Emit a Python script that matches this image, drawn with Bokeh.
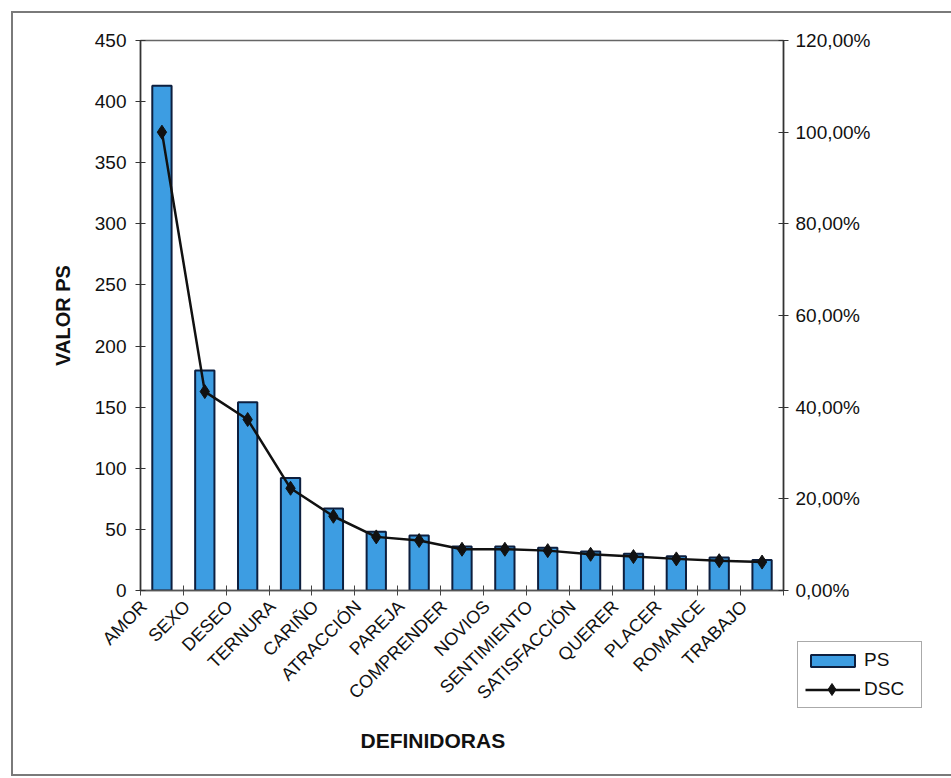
import math
from bokeh.plotting import figure
from bokeh.layouts import column
from bokeh.models import (Range1d, LinearAxis, FixedTicker, CustomJSTickFormatter,
                          Legend, LegendItem, Title)
from bokeh.embed import file_html
from bokeh.resources import INLINE

categories = ["AMOR", "SEXO", "DESEO", "TERNURA", "CARIÑO", "ATRACCIÓN", "PAREJA",
              "COMPRENDER", "NOVIOS", "SENTIMIENTO", "SATISFACCIÓN", "QUERER",
              "PLACER", "ROMANCE", "TRABAJO"]
ps_values = [413, 180, 154, 92, 67, 48, 45, 36, 36, 35, 32, 30, 28, 27, 25]
dsc_values = [1.000, 0.434, 0.373, 0.223, 0.162, 0.117, 0.109, 0.090, 0.090,
              0.087, 0.079, 0.074, 0.069, 0.065, 0.062]
left_ticks = [0, 50, 100, 150, 200, 250, 300, 350, 400, 450]
right_ticks = [0, 0.2, 0.4, 0.6, 0.8, 1.0, 1.2]

FONT = "Liberation Sans"
n = len(categories)
xpos = [i + 0.5 for i in range(n)]
label_pos = [i + 0.08 for i in range(n)]  # rotated labels end left of the bar centre

BAR = dict(fill_color="#3d9de2", line_color="#0d1f3f", line_width=2)
LINE = dict(line_color="#111111", line_width=2.5)
MARK = dict(marker="diamond", size=14, fill_color="#111111", line_color="#111111")

frame_css = {
    "background-image": "linear-gradient(#7a7a7a,#7a7a7a), linear-gradient(#7a7a7a,#7a7a7a), linear-gradient(#7a7a7a,#7a7a7a)",
    "background-size": "960px 2px, 2px 765px, 960px 2px",
    "background-position": "11px 11px, 11px 11px, 11px 774px",
    "background-repeat": "no-repeat",
}

p = figure(width=951, height=778, output_backend="svg", toolbar_location=None,
           x_range=Range1d(0, n), y_range=Range1d(0, 450),
           min_border_left=140, min_border_right=168, min_border_top=40,
           min_border_bottom=188, x_axis_type=None, y_axis_type=None,
           styles=frame_css)
p.xgrid.visible = False
p.ygrid.visible = False
p.background_fill_color = "white"
p.border_fill_color = None
p.outline_line_color = "#666666"
p.outline_line_width = 1.5
p.extra_y_ranges = {"pct": Range1d(0, 1.2)}

p.vbar(x=xpos, top=ps_values, width=0.45, bottom=0, **BAR)
p.line(x=xpos, y=dsc_values, y_range_name="pct", **LINE)
p.scatter(x=xpos, y=dsc_values, y_range_name="pct", **MARK)

# left axis
yax = LinearAxis(ticker=FixedTicker(ticks=left_ticks, minor_ticks=[]))
yax.axis_label = "VALOR PS"
yax.axis_label_text_font = FONT
yax.axis_label_text_font_style = "bold"
yax.axis_label_text_font_size = "20px"
yax.axis_label_text_color = "#111111"
yax.axis_label_standoff = 18
yax.major_label_text_font = FONT
yax.major_label_text_font_size = "19px"
yax.major_label_text_color = "#111111"
yax.major_label_standoff = 9
yax.major_tick_in = 5
yax.major_tick_out = 5
yax.minor_tick_line_color = None
yax.axis_line_color = "#333333"
yax.axis_line_width = 1.5
yax.major_tick_line_color = "#333333"
p.add_layout(yax, "left")

# right axis
rax = LinearAxis(y_range_name="pct", ticker=FixedTicker(ticks=right_ticks, minor_ticks=[]),
                 formatter=CustomJSTickFormatter(code="return (tick*100).toFixed(2).replace('.', ',') + '%';"))
rax.major_label_text_font = FONT
rax.major_label_text_font_size = "19px"
rax.major_label_text_color = "#111111"
rax.major_label_standoff = 7
rax.major_tick_in = 5
rax.major_tick_out = 5
rax.minor_tick_line_color = None
rax.axis_line_color = "#333333"
rax.axis_line_width = 1.5
rax.major_tick_line_color = "#333333"
p.add_layout(rax, "right")

# bottom axis
xax = LinearAxis(ticker=FixedTicker(ticks=label_pos, minor_ticks=list(range(n + 1))),
                 formatter=CustomJSTickFormatter(args=dict(names=categories),
                                                 code="return names[Math.round(tick - 0.08)];"))
xax.major_label_orientation = math.pi / 4
xax.major_label_text_font = FONT
xax.major_label_text_font_size = "18px"
xax.major_label_text_color = "#111111"
xax.major_label_standoff = 8
xax.major_tick_in = 0
xax.major_tick_out = 0
xax.minor_tick_in = 5
xax.minor_tick_out = 5
xax.minor_tick_line_color = "#444444"
xax.axis_line_color = "#555555"
xax.axis_line_width = 1.5
p.add_layout(xax, "below")

xtitle = Title(text="DEFINIDORAS", align="left", offset=220, standoff=26,
               text_font=FONT, text_font_style="bold", text_font_size="21px",
               text_color="#111111")
p.add_layout(xtitle, "below")

# legend: a small figure laid over the lower right corner of the chart
lf = figure(width=126, height=72, output_backend="svg", toolbar_location=None,
            x_range=Range1d(-20, -19), y_range=Range1d(-20, -19),
            x_axis_type=None, y_axis_type=None, min_border=0,
            styles={"margin-top": "-138px", "margin-left": "796px"})
lf.xgrid.visible = False
lf.ygrid.visible = False
lf.outline_line_color = None
lf.background_fill_color = None
lf.border_fill_color = None
lf.extra_y_ranges = {"pct": Range1d(-20, -19)}
lbars = lf.vbar(x=xpos, top=ps_values, width=0.45, bottom=0, **BAR)
lline = lf.line(x=xpos, y=dsc_values, y_range_name="pct", **LINE)
lpts = lf.scatter(x=xpos, y=dsc_values, y_range_name="pct", **MARK)

legend = Legend(items=[LegendItem(label="PS", renderers=[lbars]),
                       LegendItem(label="DSC", renderers=[lline, lpts])],
                location="top_left")
legend.label_text_font = FONT
legend.label_text_font_size = "19px"
legend.label_text_color = "#111111"
legend.label_width = 50
legend.glyph_width = 55
legend.glyph_height = 15
legend.label_standoff = 4
legend.spacing = 7
legend.padding = 7
legend.margin = 1
legend.border_line_color = "#555555"
legend.border_line_width = 1.5
legend.background_fill_color = "white"
lf.add_layout(legend, "center")

# larger diamond for the DSC legend entry
big_marker = Legend(items=[LegendItem(label=" ", renderers=[lpts])], location=(8, 8))
big_marker.glyph_width = 55
big_marker.glyph_height = 30
big_marker.padding = 0
big_marker.margin = 0
big_marker.label_text_font_size = "19px"
big_marker.border_line_color = None
big_marker.background_fill_color = None
lf.add_layout(big_marker, "center")

page = column(p, lf, spacing=0)
open("out.html", "w").write(file_html(page, INLINE))
